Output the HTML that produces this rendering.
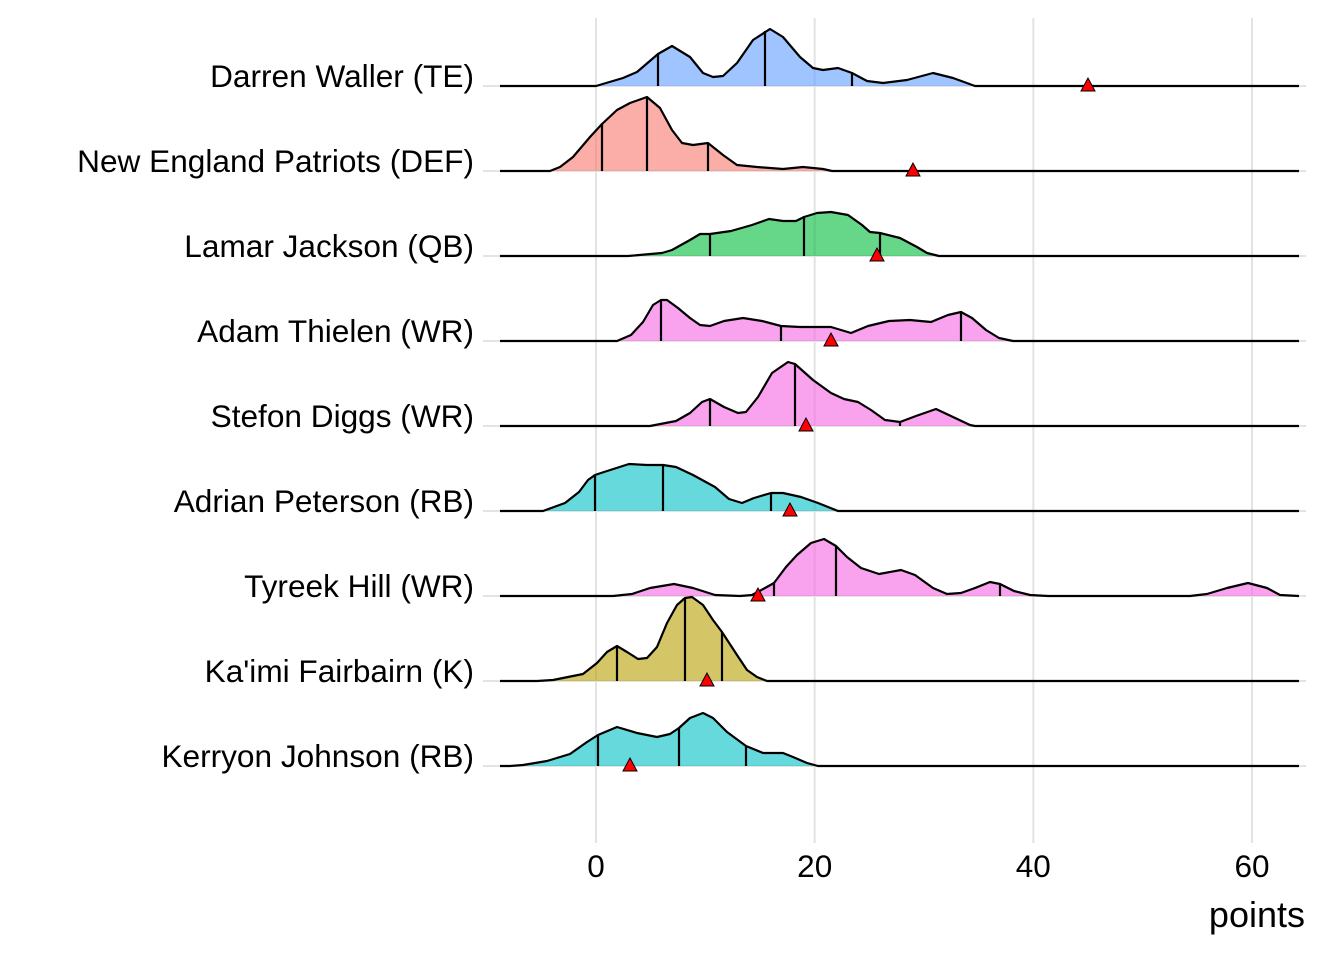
<!DOCTYPE html>
<html>
<head>
<meta charset="utf-8">
<style>
  html, body { margin:0; padding:0; background:#ffffff; }
  svg { display:block; }
  text { font-family: "Liberation Sans", Arial, sans-serif; fill:#000; }
</style>
</head>
<body>
<svg width="1344" height="960" viewBox="0 0 1344 960" xmlns="http://www.w3.org/2000/svg">
  <rect width="1344" height="960" fill="#ffffff"/>
  <!-- vertical grid -->
  <g stroke="#e3e3e3" stroke-width="2">
    <line x1="596" y1="18" x2="596" y2="843"/>
    <line x1="814.7" y1="18" x2="814.7" y2="843"/>
    <line x1="1033.3" y1="18" x2="1033.3" y2="843"/>
    <line x1="1252" y1="18" x2="1252" y2="843"/>
  </g>
  <!-- horizontal grid -->
  <g stroke="#e3e3e3" stroke-width="2">
    <line x1="483" y1="86" x2="1306" y2="86"/>
    <line x1="483" y1="171" x2="1306" y2="171"/>
    <line x1="483" y1="256" x2="1306" y2="256"/>
    <line x1="483" y1="341" x2="1306" y2="341"/>
    <line x1="483" y1="426" x2="1306" y2="426"/>
    <line x1="483" y1="511" x2="1306" y2="511"/>
    <line x1="483" y1="596" x2="1306" y2="596"/>
    <line x1="483" y1="681" x2="1306" y2="681"/>
    <line x1="483" y1="766" x2="1306" y2="766"/>
  </g>

  <g stroke-linejoin="round" stroke-linecap="butt">
  <!-- Darren Waller (TE) -->
  <path d="M596,86 L623,78 637,72 658,54 672,46 690,57 703,73 713,77 723,76 737,63 753,40 770,29 783,37 800,57 813,68 823,70 838,68 852,73 867,81 883,83 907,80 933,73 953,78 975,86 Z" fill="#619CFF" fill-opacity="0.6"/>
  <g stroke="#000" stroke-width="2.2"><line x1="658" y1="86" x2="658" y2="54"/><line x1="765" y1="86" x2="765" y2="31"/><line x1="852" y1="86" x2="852" y2="73"/></g>
  <path d="M500,86 L596,86 623,78 637,72 658,54 672,46 690,57 703,73 713,77 723,76 737,63 753,40 770,29 783,37 800,57 813,68 823,70 838,68 852,73 867,81 883,83 907,80 933,73 953,78 975,86 L1299,86" fill="none" stroke="#000" stroke-width="2.2"/>

  <!-- New England Patriots (DEF) -->
  <path d="M550,171 L560,167 573,157 590,137 602,124 617,110 630,103 647,97 660,108 672,130 682,143 693,145 708,143 723,155 737,165 757,167 783,169 803,167 823,169 832,171 Z" fill="#F8766D" fill-opacity="0.6"/>
  <g stroke="#000" stroke-width="2.2"><line x1="602" y1="171" x2="602" y2="124"/><line x1="647" y1="171" x2="647" y2="97"/><line x1="708" y1="171" x2="708" y2="143"/></g>
  <path d="M500,171 L550,171 560,167 573,157 590,137 602,124 617,110 630,103 647,97 660,108 672,130 682,143 693,145 708,143 723,155 737,165 757,167 783,169 803,167 823,169 832,171 L1299,171" fill="none" stroke="#000" stroke-width="2.2"/>

  <!-- Lamar Jackson (QB) -->
  <path d="M628,256 L662,253 672,250 690,240 700,234 710,234 731,231 752,225 769,219 783,221 796,221 804,217 817,213 831,212 848,215 862,225 870,232 880,233 900,238 917,247 927,253 939,256 Z" fill="#00BA38" fill-opacity="0.6"/>
  <g stroke="#000" stroke-width="2.2"><line x1="710" y1="256" x2="710" y2="234"/><line x1="804" y1="256" x2="804" y2="217"/><line x1="880" y1="256" x2="880" y2="233"/></g>
  <path d="M500,256 L628,256 662,253 672,250 690,240 700,234 710,234 731,231 752,225 769,219 783,221 796,221 804,217 817,213 831,212 848,215 862,225 870,232 880,233 900,238 917,247 927,253 939,256 L1299,256" fill="none" stroke="#000" stroke-width="2.2"/>

  <!-- Adam Thielen (WR) -->
  <path d="M617,341 L631,335 643,322 653,305 661,300 667,300 678,308 690,318 700,325 710,326 724,321 743,318 762,321 781,326 800,327 831,327 851,333 868,326 889,321 910,320 931,322 948,315 961,312 972,318 986,330 999,338 1013,341 Z" fill="#F564E3" fill-opacity="0.6"/>
  <g stroke="#000" stroke-width="2.2"><line x1="661" y1="341" x2="661" y2="300"/><line x1="781" y1="341" x2="781" y2="326"/><line x1="961" y1="341" x2="961" y2="312"/></g>
  <path d="M500,341 L617,341 631,335 643,322 653,305 661,300 667,300 678,308 690,318 700,325 710,326 724,321 743,318 762,321 781,326 800,327 831,327 851,333 868,326 889,321 910,320 931,322 948,315 961,312 972,318 986,330 999,338 1013,341 L1299,341" fill="none" stroke="#000" stroke-width="2.2"/>

  <!-- Stefon Diggs (WR) -->
  <path d="M650,426 L676,421 690,413 702,402 710,399 724,407 738,413 746,412 758,397 772,373 788,362 795,364 813,380 831,393 844,399 858,402 871,410 885,420 900,422 916,416 936,409 953,417 970,425 975,426 Z" fill="#F564E3" fill-opacity="0.6"/>
  <g stroke="#000" stroke-width="2.2"><line x1="710" y1="426" x2="710" y2="399"/><line x1="795" y1="426" x2="795" y2="364"/><line x1="900" y1="426" x2="900" y2="422"/></g>
  <path d="M500,426 L650,426 676,421 690,413 702,402 710,399 724,407 738,413 746,412 758,397 772,373 788,362 795,364 813,380 831,393 844,399 858,402 871,410 885,420 900,422 916,416 936,409 953,417 970,425 975,426 L1299,426" fill="none" stroke="#000" stroke-width="2.2"/>

  <!-- Adrian Peterson (RB) -->
  <path d="M543,511 L565,503 579,492 588,480 595,475 604,472 629,464 647,465 663,465 676,467 693,475 715,487 729,499 742,503 754,498 771,493 783,493 801,497 818,503 838,511 Z" fill="#00BFC4" fill-opacity="0.6"/>
  <g stroke="#000" stroke-width="2.2"><line x1="595" y1="511" x2="595" y2="475"/><line x1="663" y1="511" x2="663" y2="465"/><line x1="771" y1="511" x2="771" y2="493"/></g>
  <path d="M500,511 L543,511 565,503 579,492 588,480 595,475 604,472 629,464 647,465 663,465 676,467 693,475 715,487 729,499 742,503 754,498 771,493 783,493 801,497 818,503 838,511 L1299,511" fill="none" stroke="#000" stroke-width="2.2"/>

  <!-- Tyreek Hill (WR) -->
  <path d="M613,596 L632,594 650,588 674,584 693,588 715,595 740,596 752,595 765,588 774,583 786,567 797,555 811,543 824,539 836,546 847,557 861,568 879,574 901,570 915,575 933,588 947,594 961,593 975,588 990,582 1000,584 1014,591 1030,595 1048,596 L1190,596 1207,594 1227,588 1248,583 1267,588 1280,595 1298,596 Z" fill="#F564E3" fill-opacity="0.6"/>
  <g stroke="#000" stroke-width="2.2"><line x1="774" y1="596" x2="774" y2="583"/><line x1="836" y1="596" x2="836" y2="546"/><line x1="1000" y1="596" x2="1000" y2="584"/></g>
  <path d="M500,596 L613,596 632,594 650,588 674,584 693,588 715,595 740,596 752,595 765,588 774,583 786,567 797,555 811,543 824,539 836,546 847,557 861,568 879,574 901,570 915,575 933,588 947,594 961,593 975,588 990,582 1000,584 1014,591 1030,595 1048,596 L1190,596 1207,594 1227,588 1248,583 1267,588 1280,595 1299,596" fill="none" stroke="#000" stroke-width="2.2"/>

  <!-- Ka'imi Fairbairn (K) -->
  <path d="M537,681 L553,680 583,674 597,663 607,652 617,646 627,652 638,659 647,658 657,647 667,623 677,605 685,598 692,597 703,605 713,620 722,632 737,655 747,670 757,677 767,681 780,681 Z" fill="#B79F00" fill-opacity="0.6"/>
  <g stroke="#000" stroke-width="2.2"><line x1="617" y1="681" x2="617" y2="646"/><line x1="685" y1="681" x2="685" y2="598"/><line x1="722" y1="681" x2="722" y2="632"/></g>
  <path d="M500,681 L537,681 553,680 583,674 597,663 607,652 617,646 627,652 638,659 647,658 657,647 667,623 677,605 685,598 692,597 703,605 713,620 722,632 737,655 747,670 757,677 767,681 780,681 L1299,681" fill="none" stroke="#000" stroke-width="2.2"/>

  <!-- Kerryon Johnson (RB) -->
  <path d="M510,766 L523,765 547,761 570,754 587,742 598,735 617,727 637,733 657,737 670,734 679,728 690,718 703,713 713,718 727,732 746,746 763,753 783,753 793,757 807,763 818,766 Z" fill="#00BFC4" fill-opacity="0.6"/>
  <g stroke="#000" stroke-width="2.2"><line x1="598" y1="766" x2="598" y2="735"/><line x1="679" y1="766" x2="679" y2="728"/><line x1="746" y1="766" x2="746" y2="746"/></g>
  <path d="M500,766 L510,766 523,765 547,761 570,754 587,742 598,735 617,727 637,733 657,737 670,734 679,728 690,718 703,713 713,718 727,732 746,746 763,753 783,753 793,757 807,763 818,766 L1299,766" fill="none" stroke="#000" stroke-width="2.2"/>
  </g>

  <!-- red triangles -->
  <g fill="#FF0000" stroke="#000" stroke-width="1" stroke-linejoin="miter">
    <polygon points="1088,78 1081,91 1095,91"/>
    <polygon points="913,163 906,176 920,176"/>
    <polygon points="877,248 870,261 884,261"/>
    <polygon points="831,333 824,346 838,346"/>
    <polygon points="806,418 799,431 813,431"/>
    <polygon points="790,503 783,516 797,516"/>
    <polygon points="758,588 751,601 765,601"/>
    <polygon points="707,673 700,686 714,686"/>
    <polygon points="630,758 623,771 637,771"/>
  </g>

  <!-- y labels -->
  <g font-size="31.6" text-anchor="end">
    <text x="474" y="87">Darren Waller (TE)</text>
    <text x="474" y="172">New England Patriots (DEF)</text>
    <text x="474" y="257">Lamar Jackson (QB)</text>
    <text x="474" y="342">Adam Thielen (WR)</text>
    <text x="474" y="427">Stefon Diggs (WR)</text>
    <text x="474" y="512">Adrian Peterson (RB)</text>
    <text x="474" y="597">Tyreek Hill (WR)</text>
    <text x="474" y="682">Ka'imi Fairbairn (K)</text>
    <text x="474" y="767">Kerryon Johnson (RB)</text>
  </g>

  <!-- x tick labels -->
  <g font-size="31.5" text-anchor="middle">
    <text x="596" y="877">0</text>
    <text x="814.7" y="877">20</text>
    <text x="1033.3" y="877">40</text>
    <text x="1252" y="877">60</text>
  </g>
  <text x="1305" y="927" font-size="36" text-anchor="end">points</text>
</svg>
</body>
</html>
